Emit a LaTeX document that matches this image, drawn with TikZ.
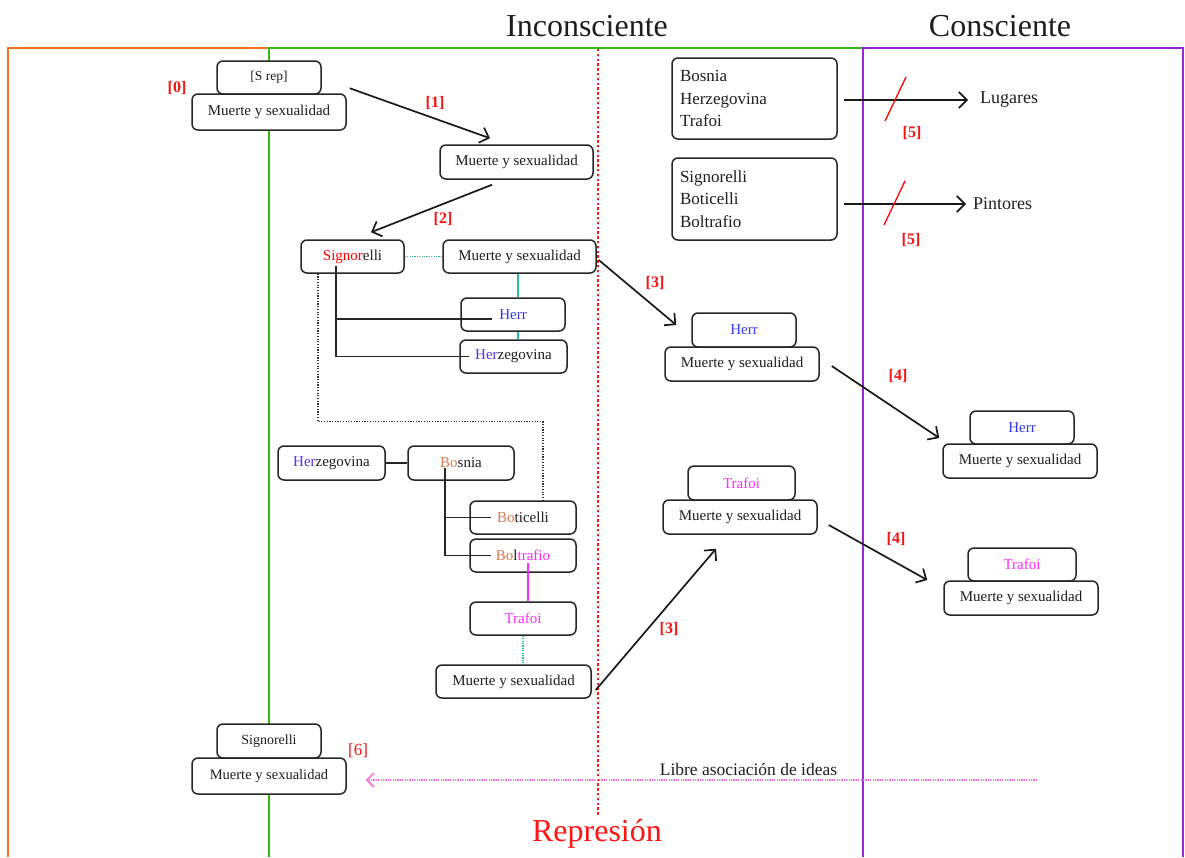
\documentclass[tikz,border=0pt]{standalone}
\usepackage{fontspec}
\setmainfont{Liberation Serif}
\usetikzlibrary{arrows.meta,calc}
\newcommand\fsz[1]{\fontsize{#1}{#1}\selectfont}
\definecolor{frameorange}{RGB}{250,112,30}
\definecolor{framegreen}{RGB}{50,185,20}
\definecolor{framepurple}{RGB}{150,40,210}
\definecolor{represred}{RGB}{255,20,20}
\definecolor{tagred}{RGB}{240,20,20}
\definecolor{linkteal}{RGB}{40,195,140}
\definecolor{herblue}{RGB}{55,55,240}
\definecolor{herzblue}{RGB}{85,50,230}
\definecolor{trafmag}{RGB}{255,40,255}
\definecolor{bobrown}{RGB}{215,120,80}
\definecolor{assocpink}{RGB}{255,100,220}
\definecolor{txt}{RGB}{30,30,30}
\tikzset{
  box/.style={draw=black!85, line width=1.5pt, rounded corners=6pt, fill=white,
    inner sep=0pt, text=txt, font=\fsz{15}},
  listbox/.style={box, align=left, inner xsep=8pt, text width=149pt,
    font=\fontsize{17}{22.5}\selectfont},
  arr/.style={line width=1.7pt, draw=black!90, -{Straight Barb[length=8pt,width=16pt,line width=1.7pt]}},
  tag/.style={text=tagred, font=\bfseries\fsz{16}, inner sep=0pt},
  head/.style={text=txt, font=\fsz{32}, inner sep=0pt},
  link/.style={line width=1.5pt, draw=black!85},
  tealline/.style={line width=2pt, draw=linkteal},
  tealdot/.style={line width=1.4pt, draw=linkteal, dash pattern=on 1.2pt off 1.2pt},
  slash/.style={line width=1.3pt, draw=red},
}
\begin{document}
\begin{tikzpicture}[x=1pt,y=-1pt]
\useasboundingbox (0,0) rectangle (1185,857);

% region frames
\draw[frameorange, line width=2.6pt] (8,857) -- (8,48) -- (269,48);
\draw[framegreen, line width=2.6pt] (269,857) -- (269,48) -- (863,48);
\draw[framepurple, line width=2.6pt] (863,857) -- (863,48) -- (1183,48) -- (1183,857);
\draw[represred, line width=2.6pt, dash pattern=on 2.4pt off 2.4pt] (598,49) -- (598,815);

% headings
\node[head] (hinc) at (587,26) {Inconsciente};
\node[head] (hcon) at (1000,26) {Consciente};
\node[head, text=represred] (hrep) at (597,834) {Represión};

% starting pair
\node[box, font=\fsz{13.5}, minimum width=104pt, minimum height=33pt] (srep) at (269,77.5) {[S rep]};
\node[box, minimum width=154pt, minimum height=36pt] (mys0) at (269,112) {Muerte y sexualidad};
\node[tag] (t0) at (177,88) {[0]};

\node[box, minimum width=153pt, minimum height=34pt] (mys1) at (516.5,162) {Muerte y sexualidad};

% Signorelli cluster
\node[box, minimum width=103pt, minimum height=33pt] (sig) at (352.5,256.5) {{\color{red}Signor}elli};
\node[box, minimum width=153pt, minimum height=33pt] (mys2) at (519.5,256.5) {Muerte y sexualidad};
\node[box, minimum width=104pt, minimum height=33pt] (herr1) at (513,314.5) {\color{herblue}Herr};
\node[box, minimum width=107pt, minimum height=33pt] (herz1) at (513.5,356.5) {{\color{herzblue}Her}zegovina};

% Bosnia cluster
\node[box, minimum width=107pt, minimum height=34pt] (herz2) at (331.5,463) {{\color{herzblue}Her}zegovina};
\node[box, minimum width=106pt, minimum height=34pt] (bos) at (461,463) {{\color{bobrown}Bo}snia};
\node[box, minimum width=106pt, minimum height=33pt] (bot) at (523,517.5) {{\color{bobrown}Bo}ticelli};
\node[box, minimum width=106pt, minimum height=33pt] (bol) at (523,555.5) {{\color{bobrown}Bo}l{\color{trafmag}trafio}};
\node[box, minimum width=106pt, minimum height=33pt] (traf1) at (523,618.5) {\color{trafmag}Trafoi};
\node[box, minimum width=155pt, minimum height=33pt] (mys3) at (513.5,681.5) {Muerte y sexualidad};

% middle pairs
\node[box, minimum width=104pt, minimum height=34pt] (herr2) at (744,330) {\color{herblue}Herr};
\node[box, minimum width=154pt, minimum height=34pt] (mys4) at (742,364) {Muerte y sexualidad};
\node[box, minimum width=107pt, minimum height=34pt] (traf2) at (741.5,483) {\color{trafmag}Trafoi};
\node[box, minimum width=154pt, minimum height=34pt] (mys5) at (740,517) {Muerte y sexualidad};

% conscious pairs
\node[box, minimum width=104pt, minimum height=33pt] (herr3) at (1022,427.5) {\color{herblue}Herr};
\node[box, minimum width=154pt, minimum height=34pt] (mys6) at (1020,461) {Muerte y sexualidad};
\node[box, minimum width=108pt, minimum height=33pt] (traf3) at (1022,564.5) {\color{trafmag}Trafoi};
\node[box, minimum width=154pt, minimum height=34pt] (mys7) at (1021,598) {Muerte y sexualidad};

% word lists
\node[listbox, minimum height=81pt] (lugbox) at (754.5,98.5) {Bosnia\\Herzegovina\\Trafoi};
\node[listbox, minimum height=82pt] (pinbox) at (754.5,199) {Signorelli\\Boticelli\\Boltrafio};
\node[text=txt, font=\fsz{18}, inner sep=0pt, anchor=west] (lug) at (980,100) {Lugares};
\node[text=txt, font=\fsz{18}, inner sep=0pt, anchor=west] (pin) at (973,204) {Pintores};

% final pair
\node[box, font=\fsz{14}, minimum width=104pt, minimum height=34pt] (sig2) at (269,741) {Signorelli};
\node[box, font=\fsz{14.5}, minimum width=154pt, minimum height=36pt] (mys8) at (269,776) {Muerte y sexualidad};
\node[text=tagred, font=\fsz{17}, inner sep=0pt] (t6) at (358,751) {[6]};

% associations around Signorelli
\draw[tealdot] (sig.east) -- (mys2.west);
\coordinate (tealx) at ($(mys2.south)+(-1.5,0)$);
\draw[tealline] (tealx) -- (tealx |- herr1.north);
\draw[tealline] (herr1.south -| tealx) -- (herz1.north -| tealx);
\coordinate (sigtap) at ($(sig.center)+(-16.5,9.5)$);
\draw[link] (sigtap) |- ($(herr1.west)+(32,4.5)$);
\draw[link] (sigtap) |- ($(herz1.west)+(10,0)$);
\coordinate (sigdot) at ($(sig.south)+(-34.5,0)$);
\coordinate (botdot) at ($(bot.north)+(20,0)$);
\draw[line width=1.3pt, draw=black!80, dash pattern=on 1.2pt off 1.5pt] (sigdot) -- ++(0,148) -| (botdot);

% associations around Bosnia
\draw[link] (herz2.east) -- (bos.west);
\coordinate (bostap) at ($(bos.center)+(-16,5)$);
\draw[link] (bostap) |- ($(bot.west)+(22,0)$);
\draw[link] (bostap) |- ($(bol.west)+(22,0)$);
\coordinate (boltap) at ($(bol.center)+(5,7.5)$);
\draw[trafmag, line width=1.7pt] (boltap) -- (boltap |- traf1.north);
\draw[tealdot] (traf1.south) -- (traf1.south |- mys3.north);

% numbered steps
\draw[arr] ($(mys0.north east)+(3,-5)$) -- ($(mys1.north)+(-26.5,-6)$);
\node[tag] (t1) at (435,103) {[1]};
\draw[arr] ($(mys1.south)+(-24.5,5)$) -- ($(sig.north)+(18.5,-7)$);
\node[tag] (t2) at (443,219) {[2]};
\draw[arr] ($(mys2.east)+(2,3.5)$) -- ($(herr2.west)+(-15,-5)$);
\node[tag] (t3a) at (655,283) {[3]};
\draw[arr] ($(mys3.east)+(4,8.5)$) -- ($(mys5.south)+(-24,14)$);
\node[tag] (t3b) at (669,629) {[3]};
\draw[arr] ($(mys4.east)+(12,2)$) -- ($(herr3.west)+(-30,10.5)$);
\node[tag] (t4a) at (898,376) {[4]};
\draw[arr] ($(mys5.east)+(11,8)$) -- ($(traf3.west)+(-40,15.5)$);
\node[tag] (t4b) at (896,539) {[4]};

% blocked passage to consciousness
\draw[arr] ([xshift=6pt]lugbox.east |- lug.west) -- ([xshift=-12pt]lug.west);
\draw[slash] (885,121) -- (906,77);
\node[tag] (t5a) at (912,133) {[5]};
\draw[arr] ([xshift=6pt]pinbox.east |- pin.west) -- ([xshift=-7pt]pin.west);
\draw[slash] (884,225) -- (905,181);
\node[tag] (t5b) at (911,240) {[5]};

% free association back to the substitute
\coordinate (assocstart) at (1037,780);
\draw[assocpink, line width=1.4pt, dash pattern=on 1.2pt off 1.2pt, shorten >=19pt,
  -{Straight Barb[length=7pt,width=14pt,line width=1.5pt]}]
  (assocstart) -- (assocstart -| mys8.east)
  node[pos=0.418, anchor=base, yshift=5pt, text=txt, font=\fsz{17.5}, inner sep=0pt] (assoc) {Libre asociación de ideas};
\end{tikzpicture}
\end{document}
